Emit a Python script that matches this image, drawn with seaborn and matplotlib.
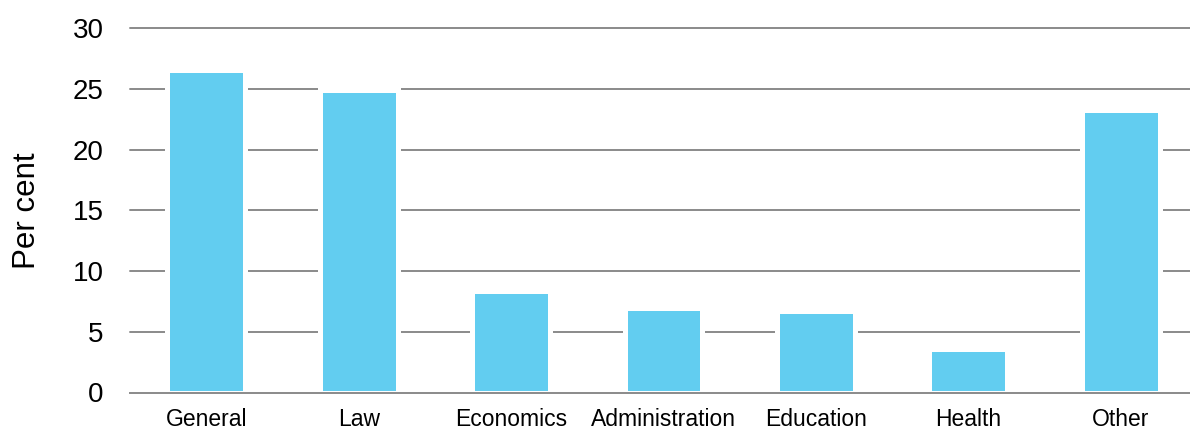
import matplotlib
matplotlib.use("Agg")
import matplotlib.pyplot as plt
import seaborn as sns
import numpy as np

categories = ["General", "Law", "Economics", "Administration", "Education", "Health", "Other"]
values = [26.55, 24.95, 8.35, 6.95, 6.7, 3.6, 23.25]
y_ticks = [0, 5, 10, 15, 20, 25, 30]

sns.set_style("white")
plt.rcParams["font.family"] = ["Liberation Sans", "DejaVu Sans"]
plt.rcParams["text.color"] = "black"
plt.rcParams["xtick.color"] = "black"
plt.rcParams["ytick.color"] = "black"
plt.rcParams["axes.labelcolor"] = "black"

bar_color = "#62CDF0"
grid_color = "#8A8A8A"

fig = plt.figure(figsize=(11.9, 4.3), dpi=100)
ax = fig.add_axes([130 / 1190, 37.5 / 430, 1067 / 1190, 364.2 / 430])

sns.barplot(x=categories, y=values, color=bar_color, width=0.51,
            edgecolor="white", linewidth=3.6, saturation=1, ax=ax, zorder=3)

ax.set_xlim(-0.5, len(categories) - 0.5)
ax.set_ylim(0, 30)
ax.set_yticks(y_ticks)
ax.set_yticklabels([str(t) for t in y_ticks], fontsize=20)
ax.tick_params(axis="y", length=0, pad=19, labelcolor="black")

for t in y_ticks[1:]:
    ax.axhline(t, color=grid_color, linewidth=1.4, zorder=1, clip_on=False)

# category boundaries carry the tick marks, labels sit at the centres
ax.set_xticks(np.arange(-0.5, len(categories) + 0.5, 1.0))
ax.set_xticklabels([])
ax.tick_params(axis="x", which="major", length=6, width=1.2, color=grid_color, direction="out")
ax.set_xticks(np.arange(len(categories)), minor=True)
ax.set_xticklabels(categories, minor=True, fontsize=16.5)
ax.tick_params(axis="x", which="minor", length=0, pad=11, labelcolor="black")

for side in ["top", "right", "left"]:
    ax.spines[side].set_visible(False)
ax.spines["bottom"].set_color(grid_color)
ax.spines["bottom"].set_linewidth(1.4)
ax.spines["bottom"].set_zorder(4)

ax.set_xlabel("")
ax.set_ylabel("Per cent", fontsize=22.5, labelpad=22, color="black")

fig.savefig("out.png", dpi=100)
